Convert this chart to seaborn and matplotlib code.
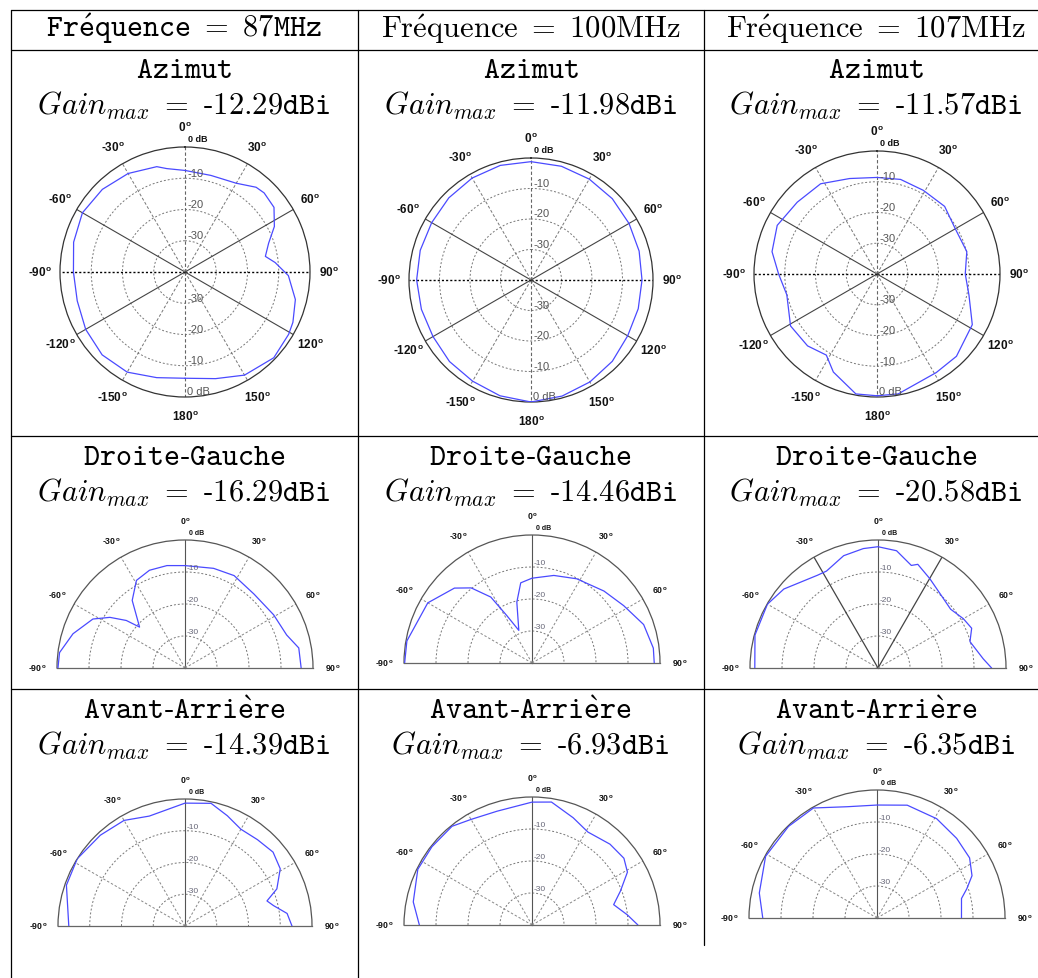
import numpy as np
import matplotlib
matplotlib.use("Agg")
import matplotlib.pyplot as plt
import seaborn as sns
from matplotlib.lines import Line2D

# ---------------- data ----------------
freq_labels = ["87MHz", "100MHz", "107MHz"]
plane_labels = ["Azimut", "Droite-Gauche", "Avant-Arrière"]
gain_87 = [-12.29, -16.29, -14.39]
gain_100 = [-11.98, -14.46, -6.93]
gain_107 = [-11.57, -20.58, -6.35]

# Azimut (full circle), angle in degrees, gain in dB (0 dB = outer circle)
az87_ang = [-180, -165, -150, -135, -120, -105, -90, -75, -60, -45, -30, -15, -10, 0, 15, 30, 40, 45,
            54, 63, 71, 79, 84, 92, 104, 115, 121, 134, 150, 164, 180]
az87_db = [-6, -5, -3, -2.5, -3.3, -4.3, -4.3, -3.1, -2.1, -2.6, -3.6, -5.1, -6.4, -7.5, -8, -7.2, -4.6,
           -4.2, -4.8, -7.9, -11.7, -13.8, -11, -6.9, -3.6, -1.9, -1.3, -0.5, -1.9, -4.5, -6]
az100_ang = [-180, -165, -150, -135, -120, -105, -90, -75, -60, -45, -30, -15, 0, 15, 30, 45, 60, 75,
             90, 105, 120, 135, 150, 165, 180]
az100_db = [0, -0.7, -1.7, -2.2, -2.9, -2.8, -2.5, -2.4, -2.4, -1.9, -1.4, -1.1, -1.2, -1.4, -1.8, -2.3,
            -2.9, -3.3, -3.6, -3.6, -3.4, -2.3, -1.4, -0.6, 0]
az107_ang = [-180, -170, -156, -148, -136, -121, -103, -90, -78, -64, -48, -32, -16, 0, 14, 29, 45, 60,
             76, 90, 103, 118, 136, 149, 170, 180]
az107_db = [-0.4, -0.4, -5.1, -8.9, -7.5, -7.2, -9.9, -8, -5.1, -3.9, -5.1, -5.4, -7.7, -8.6, -8.3, -8.9,
            -8.9, -10.6, -9.9, -11.3, -9.3, -4.9, -2.8, -2.6, -0.4, -0.4]

# Droite-Gauche (half circle)
dg87_ang = [-90, -83, -73, -62, -56, -51, -48, -38, -29, -20, -10, 0, 16, 28, 43, 59, 72, 80, 90]
dg87_db = [-0.3, -0.5, -3.4, -7.4, -11.7, -16.4, -20.9, -13.2, -8.7, -7.5, -7.5, -8.0, -7.6, -7.3, -8.4,
           -7.7, -6.6, -3.9, -3.7]
dg100_ang = [-90, -80, -60, -46, -39, -32, -28, -22, -14, -8, 0, 14, 28, 45, 58, 71, 83, 90]
dg100_db = [-0.2, -0.3, -2.4, -6.3, -9.8, -15.7, -23.2, -29, -20.4, -14.7, -13.5, -11.8, -10.2, -8.2,
            -6.2, -3.1, -1.8, -1.8]
dg107_ang = [-90, -75, -60, -50, -33, -28, -17, -7, 0, 9, 18, 21, 30, 41, 51, 60, 67, 74, 85, 90]
dg107_db = [-1.5, -0.2, -0.1, -1.6, -5.4, -5.7, -3.3, -2.4, -2.1, -2.9, -6.3, -5.3, -7.7, -9.9, -10.8,
            -9.2, -8.2, -10.1, -7, -4.5]

# Avant-Arriere (half circle)
aa87_ang = [-90, -71, -58, -43, -30, -18, 0, 12, 21, 30, 40, 50, 59, 68, 73, 77, 83, 90]
aa87_db = [-3.4, -0.5, 0, -0.9, -1.6, -3.6, -1.3, -0.5, -2.8, -4.8, -4.5, -3.8, -5, -8.8, -13, -11.4,
           -7.6, -6.3]
aa100_ang = [-90, -79, -64, -52, -39, -30, -17, 0, 9, 21, 31, 44, 54, 61, 69, 76, 84, 90]
aa100_db = [-4.8, -2.2, -0.3, -0.3, -0.3, -1.9, -2.8, -1.6, -1.1, -4.1, -6.1, -4.9, -4.5, -5.9, -10.4,
            -13.7, -10, -6.9]
aa107_ang = [-90, -78, -61, -44, -30, -15, 0, 15, 31, 45, 57, 66, 72, 77, 90]
aa107_db = [-4.3, -2.4, -0.2, -0.2, -0.3, -4, -4.7, -3.5, -3.8, -4.8, -5.5, -7.5, -10.5, -12.9, -13.6]

# ---------------- style ----------------
sns.set_theme(style="white")
plt.rcParams["font.family"] = ["Liberation Sans", "DejaVu Sans"]
plt.rcParams["mathtext.fontset"] = "cm"

W, H = 1038, 979
fig = plt.figure(figsize=(W / 100, H / 100), dpi=100)
fig.patch.set_facecolor("white")


def fx(x):
    return x / W


def fy(y):
    return 1 - y / H


# ---------------- table lines ----------------
def hline(y, x0, x1):
    fig.add_artist(Line2D([fx(x0), fx(x1)], [fy(y), fy(y)], transform=fig.transFigure,
                          color="black", lw=0.9))


def vline(x, y0, y1):
    fig.add_artist(Line2D([fx(x), fx(x)], [fy(y0), fy(y1)], transform=fig.transFigure,
                          color="black", lw=0.9))


for yy in [11, 50.5, 437, 690]:
    hline(yy, 11, 1038)
vline(11, 11, 979)
vline(357.5, 11, 979)
vline(704, 11, 946)

col_x = [184, 530.5, 876]
FS = 22
HY = "\u2010"  # typewriter hyphen

# ---------------- texts ----------------
headers = [r"$\mathtt{Fr\acute{e}quence\ =\ " + freq_labels[0] + "}$",
           r"$\mathrm{Fr\acute{e}quence\ =\ " + freq_labels[1] + "}$",
           r"$\mathrm{Fr\acute{e}quence\ =\ " + freq_labels[2] + "}$"]
for cx, s in zip(col_x, headers):
    fig.text(fx(cx), fy(37.5), s, ha="center", va="baseline", fontsize=FS, color="black")

plane_tex = [r"$\mathtt{" + p.replace("-", HY).replace("è", r"\grave{e}") + "}$" for p in plane_labels]
row_base = [(78, 115), (465, 502), (719, 755)]
gains = [gain_87, gain_100, gain_107]
for ci, cx in enumerate(col_x):
    for ri, (b1, b2) in enumerate(row_base):
        fig.text(fx(cx), fy(b1), plane_tex[ri], ha="center", va="baseline", fontsize=FS,
                 color="black")
        g = f"{gains[ci][ri]:.2f}".replace("-", HY)
        s = r"$Gain_{max}\ \mathtt{=\ " + g + "dBi}$"
        fig.text(fx(cx), fy(b2), s, ha="center", va="baseline", fontsize=FS, color="black")


# ---------------- polar plots ----------------
def deg_label(v):
    return f"{v}" + r"$^{\mathregular{o}}$"


def make_polar(cx, cy, R, full):
    if full:
        rect = [fx(cx - R), fy(cy + R), 2 * R / W, 2 * R / H]
    else:
        rect = [fx(cx - R), fy(cy + 0.5 * R), 2 * R / W, 2 * R / H]
    ax = fig.add_axes(rect, projection="polar")
    ax.set_theta_zero_location("N")
    ax.set_theta_direction(-1)
    if not full:
        ax.set_thetamin(-90)
        ax.set_thetamax(90)
    ax.set_facecolor("white")
    return ax


def decorate(ax, full, special=False):
    ax.set_ylim(-40, 0)
    ax.set_yticks([-30, -20, -10])
    ax.set_yticklabels([])
    ax.yaxis.grid(True, ls=(0, (2, 2)), color="#777777", lw=0.7)
    ax.xaxis.grid(False)
    if full:
        angs = list(range(0, 360, 30))
        labs = [deg_label(a if a <= 180 else a - 360) for a in angs]
        ax.set_thetagrids(angs, labs, fontweight="bold")
        ax.tick_params(axis="x", labelsize=8.5, pad=1, colors="#111111")
        for a in angs:
            if a in (60, 120, 240, 300):
                st = dict(ls="-", color="#444444", lw=0.8)
            elif a in (90, 270):
                st = dict(ls=(0, (1.5, 1.5)), color="#000000", lw=1.0)
            elif a in (0, 180):
                st = dict(ls=(0, (3, 2)), color="#666666", lw=0.8)
            else:
                st = dict(ls=(0, (3, 2)), color="#777777", lw=0.7)
            ax.axvline(np.deg2rad(a), zorder=1, **st)
        ax.spines["polar"].set(color="#333333", lw=0.9)
        rfs = 8
        for r in (-10, -20, -30):
            ax.annotate(f"{r}", xy=(0, r), xytext=(1.5, 0.5), textcoords="offset points",
                        ha="left", va="bottom", fontsize=rfs, color="#555555")
        for r, t in ((-30, "-30"), (-20, "-20"), (-10, "-10"), (0, "0 dB")):
            ax.annotate(t, xy=(np.pi, r), xytext=(1.5, 0.5), textcoords="offset points",
                        ha="left", va="bottom", fontsize=rfs, color="#555555")
        ax.annotate("0 dB", xy=(0, 0), xytext=(2, 3), textcoords="offset points",
                    ha="left", va="bottom", fontsize=6.5, color="#111111", fontweight="bold")
    else:
        angs = list(range(-90, 91, 30))
        labs = [deg_label(a) for a in angs]
        ax.set_thetagrids(angs, labs, fontweight="bold")
        ax.tick_params(axis="x", labelsize=6.3, pad=1, colors="#111111")
        for a in angs:
            if a == 0:
                st = dict(ls="-", color="#555555", lw=0.8)
            elif special and a in (-30, 30):
                st = dict(ls="-", color="#444444", lw=0.9)
            else:
                st = dict(ls=(0, (2.5, 2)), color="#888888", lw=0.7)
            ax.axvline(np.deg2rad(a), zorder=1, **st)
        ax.spines["polar"].set(color="#555555", lw=0.9)
        ax.spines["start"].set(color="#666666", lw=0.9)
        ax.spines["end"].set(color="#666666", lw=0.9)
        for r in (-10, -20, -30):
            ax.annotate(f"{r}", xy=(0, r), xytext=(1.5, 0.5), textcoords="offset points",
                        ha="left", va="bottom", fontsize=6, color="#666677")
        ax.annotate("0 dB", xy=(0, 0), xytext=(3, 3), textcoords="offset points",
                    ha="left", va="bottom", fontsize=5, color="#111111", fontweight="bold")


plots = [
    (185, 273, 125, True, az87_ang, az87_db, False),
    (531, 281, 122, True, az100_ang, az100_db, False),
    (877, 275, 123, True, az107_ang, az107_db, False),
    (185, 669, 128, False, dg87_ang, dg87_db, False),
    (532, 664, 128, False, dg100_ang, dg100_db, False),
    (878, 669, 128, False, dg107_ang, dg107_db, True),
    (185, 927, 127, False, aa87_ang, aa87_db, False),
    (532, 926, 128, False, aa100_ang, aa100_db, False),
    (877, 919, 128, False, aa107_ang, aa107_db, False),
]

for cx, cy, R, full, ang, db, special in plots:
    ax = make_polar(cx, cy, R, full)
    sns.lineplot(x=np.deg2rad(ang), y=db, ax=ax, sort=False, estimator=None,
                 color="#4a4aff", linewidth=0.9, zorder=3)
    ax.set_xlabel("")
    ax.set_ylabel("")
    decorate(ax, full, special)

fig.savefig("out.png", dpi=100, facecolor="white")
